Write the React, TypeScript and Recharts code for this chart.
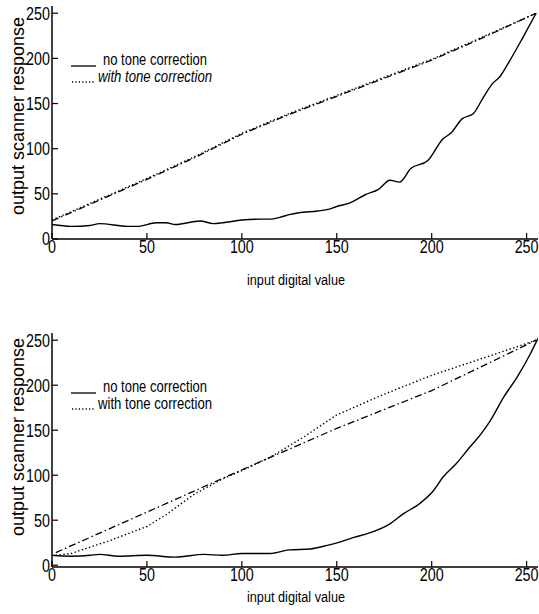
import React from 'react';
import { LineChart, Line, XAxis, YAxis, Legend } from 'recharts';

// ---------- data ----------
const xTicks = [0, 50, 100, 150, 200, 250];
const yTicks = [0, 50, 100, 150, 200, 250];

// top panel
const topNoCorrX = [0, 10, 20, 25, 40, 45, 55, 60, 65, 78, 85, 90, 100, 110, 115, 120, 125, 130, 140, 146, 150, 157, 165, 172, 178, 183, 189, 198, 206, 210, 216, 222, 227, 232, 236, 241, 248, 255];
const topNoCorrY = [16, 14, 15, 17, 14, 14, 18, 18, 16, 20, 17, 18, 21, 22, 22, 24, 27, 29, 31, 33, 36, 40, 49, 55, 65, 63, 78, 87, 111, 117, 133, 139, 156, 172, 180, 197, 223, 250];
const topWithCorrX = [0, 25, 50, 75, 100, 125, 150, 175, 200, 225, 255];
const topWithCorrY = [21, 44, 67, 91, 117, 139, 159, 179, 199, 222, 250];
const topTargetX = [0, 25, 50, 75, 100, 125, 150, 175, 200, 225, 255];
const topTargetY = [20, 43, 66, 90, 116, 138, 158, 178, 198, 221, 250];

// bottom panel
const botNoCorrX = [0, 10, 20, 25, 35, 50, 65, 80, 90, 100, 115, 125, 136, 145, 152, 159, 166, 178, 185, 194, 201, 206, 213, 220, 226, 231, 238, 245, 252, 256];
const botNoCorrY = [11, 10, 11, 12, 10, 11, 9, 12, 11, 13, 13, 17, 18, 22, 26, 31, 35, 46, 57, 69, 83, 98, 113, 131, 146, 161, 187, 209, 235, 252];
const botWithCorrX = [2, 10, 20, 30, 40, 50, 60, 75, 90, 100, 115, 133, 150, 175, 200, 227, 255];
const botWithCorrY = [11, 13, 20, 27, 35, 43, 56, 79, 96, 105, 120, 143, 167, 190, 211, 230, 250];
const botTargetX = [2, 50, 100, 150, 200, 255];
const botTargetY = [14, 59, 106, 152, 194, 250];

const seriesNames = ['no tone correction', 'with tone correction'];
const xLabel = 'input digital value';
const yLabel = 'output scanner response';

const toPoints = (xs: number[], ys: number[]) => xs.map((x, i) => ({ x, y: ys[i] }));

// ---------- styles ----------
const FONT = "'Liberation Sans', Arial, Helvetica, sans-serif";
const SQUEEZE = 0.82;
const DOTTED = '1.4 2.4';
const DASHDOT = '7 3 1.5 3';
const AXIS = { stroke: '#000', strokeWidth: 1.5 };

const XTick = (props: any) => {
  const { x, y, payload } = props;
  return (
    <g transform={`translate(${x},${y}) scale(${SQUEEZE},1)`}>
      <text x={0} y={0} dy="0.71em" textAnchor="middle" fontFamily={FONT} fontSize={17.5} fill="#000">
        {payload.value}
      </text>
    </g>
  );
};

const YTick = (props: any) => {
  const { x, y, payload } = props;
  return (
    <g transform={`translate(${x},${y}) scale(${SQUEEZE},1)`}>
      <text x={0} y={0} dy="0.36em" textAnchor="end" fontFamily={FONT} fontSize={17.5} fill="#000">
        {payload.value}
      </text>
    </g>
  );
};

type LegendProps = { italicSecond: boolean; gap: number };
const makeLegend = ({ italicSecond, gap }: LegendProps) => () => (
  <svg width={200} height={40} style={{ display: 'block', overflow: 'visible' }}>
    <line x1={2} x2={27} y1={17} y2={17} stroke="#000" strokeWidth={1.3} />
    <text x={34} y={16} fontFamily={FONT} fontSize={16} fill="#000" textLength={104} lengthAdjust="spacingAndGlyphs">
      {seriesNames[0]}
    </text>
    <line x1={3} x2={26} y1={16 + gap} y2={16 + gap} stroke="#000" strokeWidth={1.5} strokeDasharray="1.2 2.2" />
    <text
      x={29}
      y={16 + gap}
      fontFamily={FONT}
      fontSize={16}
      fill="#000"
      fontStyle={italicSecond ? 'italic' : 'normal'}
      textLength={114}
      lengthAdjust="spacingAndGlyphs"
    >
      {seriesNames[1]}
    </text>
  </svg>
);

type PanelProps = {
  height: number;
  top: number;
  xAxisHeight: number;
  yDomain: [number, number];
  noCorr: { x: number; y: number }[];
  withCorr: { x: number; y: number }[];
  target: { x: number; y: number }[];
  legendTop: number;
  italicSecond: boolean;
  legendGap: number;
  yLabelCenter: number;
  xLabelBaseline: number;
};

const Panel = (p: PanelProps) => {
  const plotBottom = p.height - p.xAxisHeight;
  return (
    <LineChart
      width={539}
      height={p.height}
      margin={{ top: p.top, right: 1, bottom: 0, left: 0 }}
      style={{ position: 'absolute', left: 0, top: 0 }}
    >
      <XAxis
        xAxisId="b"
        type="number"
        dataKey="x"
        domain={[0, 256]}
        ticks={xTicks}
        allowDataOverflow
        height={p.xAxisHeight}
        axisLine={AXIS}
        tickLine={{ stroke: '#000', strokeWidth: 1.2 }}
        tickSize={-6}
        tickMargin={8}
        tick={<XTick />}
        label={() => (
          <text
            x={296}
            y={plotBottom + p.xLabelBaseline}
            textAnchor="middle"
            fontFamily={FONT}
            fontSize={15.5}
            fill="#000"
            textLength={98}
            lengthAdjust="spacingAndGlyphs"
          >
            {xLabel}
          </text>
        )}
      />
      <XAxis
        xAxisId="t"
        orientation="top"
        type="number"
        dataKey="x"
        domain={[0, 256]}
        ticks={xTicks}
        allowDataOverflow
        height={0}
        axisLine={AXIS}
        tickLine={{ stroke: '#000', strokeWidth: 1.2 }}
        tickSize={-6}
        tickFormatter={() => ''}
      />
      <YAxis
        yAxisId="l"
        type="number"
        domain={p.yDomain}
        ticks={yTicks}
        allowDataOverflow
        width={52}
        axisLine={AXIS}
        tickLine={{ stroke: '#000', strokeWidth: 1.2 }}
        tickSize={-6}
        tickMargin={8}
        tick={<YTick />}
        label={() => (
          <text
            x={18}
            y={p.yLabelCenter}
            transform={`rotate(-90, 18, ${p.yLabelCenter})`}
            textAnchor="middle"
            dominantBaseline="central"
            fontFamily={FONT}
            fontSize={18}
            fill="#000"
          >
            {yLabel}
          </text>
        )}
      />
      <YAxis
        yAxisId="r"
        orientation="right"
        type="number"
        domain={p.yDomain}
        ticks={yTicks}
        allowDataOverflow
        width={0}
        axisLine={AXIS}
        tickLine={{ stroke: '#000', strokeWidth: 1.2 }}
        tickSize={-6}
        tickFormatter={() => ''}
      />
      <Legend
        layout="horizontal"
        verticalAlign="middle"
        align="center"
        content={makeLegend({ italicSecond: p.italicSecond, gap: p.legendGap })}
        wrapperStyle={{ position: 'absolute', left: 69, top: p.legendTop, width: 200, height: 40 }}
      />
      <Line
        xAxisId="b"
        yAxisId="l"
        data={p.target}
        dataKey="y"
        name="target"
        type="linear"
        stroke="#000"
        strokeWidth={1.3}
        strokeDasharray={DASHDOT}
        dot={false}
        legendType="none"
        isAnimationActive={false}
      />
      <Line
        xAxisId="b"
        yAxisId="l"
        data={p.withCorr}
        dataKey="y"
        name={seriesNames[1]}
        type="linear"
        stroke="#000"
        strokeWidth={1.4}
        strokeDasharray={DOTTED}
        dot={false}
        isAnimationActive={false}
      />
      <Line
        xAxisId="b"
        yAxisId="l"
        data={p.noCorr}
        dataKey="y"
        name={seriesNames[0]}
        type="monotone"
        stroke="#000"
        strokeWidth={1.4}
        dot={false}
        isAnimationActive={false}
      />
    </LineChart>
  );
};

export default function App() {
  return (
    <div style={{ position: 'absolute', left: 0, top: 0, width: 539, height: 614, background: '#fff' }}>
      <div style={{ position: 'absolute', left: 0, top: 0, width: 539, height: 300 }}>
        <Panel
          height={300}
          top={6}
          xAxisHeight={61}
          yDomain={[0, 258]}
          noCorr={toPoints(topNoCorrX, topNoCorrY)}
          withCorr={toPoints(topWithCorrX, topWithCorrY)}
          target={toPoints(topTargetX, topTargetY)}
          legendTop={49}
          italicSecond={true}
          legendGap={17}
          yLabelCenter={116}
          xLabelBaseline={46}
        />
      </div>
      <div style={{ position: 'absolute', left: 0, top: 300, width: 539, height: 314 }}>
        <Panel
          height={314}
          top={33}
          xAxisHeight={47}
          yDomain={[-2, 258]}
          noCorr={toPoints(botNoCorrX, botNoCorrY)}
          withCorr={toPoints(botWithCorrX, botWithCorrY)}
          target={toPoints(botTargetX, botTargetY)}
          legendTop={76}
          italicSecond={false}
          legendGap={17}
          yLabelCenter={137}
          xLabelBaseline={35}
        />
      </div>
    </div>
  );
}
